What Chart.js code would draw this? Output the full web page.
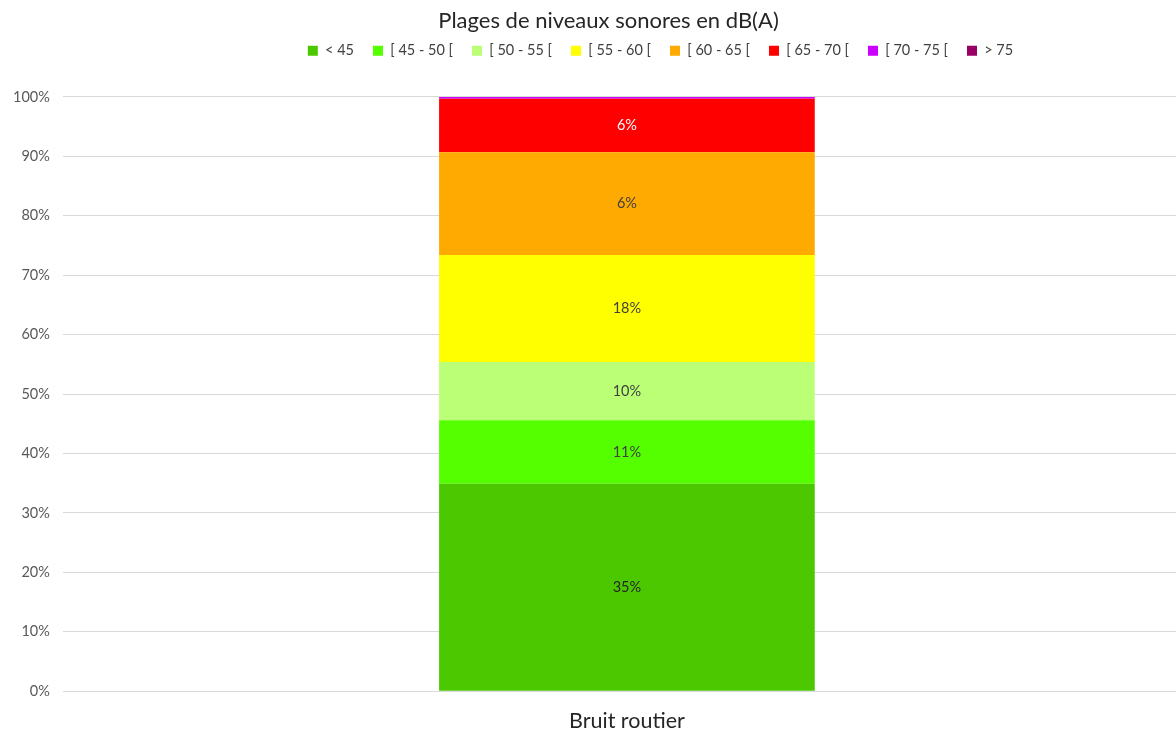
<!DOCTYPE html>
<html>
<head>
<meta charset="utf-8">
<script src="https://cdn.jsdelivr.net/npm/chart.js@4"></script>
<style>
  html, body { margin: 0; padding: 0; background: #fff; overflow: hidden; }
  #wrap { width: 1191px; height: 743px; position: relative; }
</style>
</head>
<body>
<div id="wrap"><canvas id="chart"></canvas></div>
<script>
const categories = ['Bruit routier'];
const seriesNames = ['< 45', '[ 45 - 50 [', '[ 50 - 55 [', '[ 55 - 60 [', '[ 60 - 65 [', '[ 65 - 70 [', '[ 70 - 75 [', '> 75'];
// hauteurs (en %)
const seriesValues = [34.9, 10.7, 9.8, 18.0, 17.3, 9.0, 0.3, 0];
// étiquettes affichées dans les barres
const seriesLabels = ['35%', '11%', '10%', '18%', '6%', '6%', '', ''];
const seriesColors = ['#4cc800', '#55ff00', '#bbff77', '#ffff00', '#ffaa00', '#ff0000', '#cc00ff', '#990066'];
const labelColors = ['#262626', '#404040', '#404040', '#404040', '#404040', '#ffffff', '#404040', '#404040'];
const yTicks = [0, 10, 20, 30, 40, 50, 60, 70, 80, 90, 100];

const FONT = 'Lato, "Open Sans", sans-serif';

// dessine le texte au centre de chaque segment
const barLabels = {
  id: 'barLabels',
  afterDatasetsDraw(chart) {
    const ctx = chart.ctx;
    ctx.save();
    ctx.font = '14.5px ' + FONT;
    ctx.textAlign = 'center';
    ctx.textBaseline = 'middle';
    chart.data.datasets.forEach((ds, i) => {
      const meta = chart.getDatasetMeta(i);
      meta.data.forEach(bar => {
        const text = seriesLabels[i];
        if (!text) return;
        ctx.fillStyle = labelColors[i];
        ctx.fillText(text, bar.x, (bar.y + bar.base) / 2);
      });
    });
    ctx.restore();
  }
};

// plus d'espace sous la légende, et titre / légende décalés comme dans Excel
const legendSpace = {
  id: 'legendSpace',
  beforeInit(chart) {
    const origFit = chart.legend.fit;
    chart.legend.fit = function () {
      origFit.bind(chart.legend)();
      this.height += 29;
    };
  },
  afterLayout(chart) {
    chart.legend.left += 65;
    chart.legend.right += 65;
    chart.titleBlock.left += 13;
    chart.titleBlock.right += 13;
  }
};

new Chart(document.getElementById('chart'), {
  type: 'bar',
  data: {
    labels: categories,
    datasets: seriesNames.map((name, i) => ({
      label: name,
      data: [seriesValues[i]],
      backgroundColor: seriesColors[i],
      borderWidth: 0
    }))
  },
  options: {
    responsive: true,
    maintainAspectRatio: false,
    animation: false,
    layout: { padding: { left: 0, right: 0, top: 8, bottom: 0 } },
    datasets: {
      bar: { categoryPercentage: 1, barPercentage: 0.333 }
    },
    plugins: {
      title: {
        display: true,
        text: 'Plages de niveaux sonores en dB(A)',
        color: '#262626',
        font: { family: FONT, size: 22, weight: 'normal' },
        padding: { top: 0, bottom: -10 }
      },
      legend: {
        position: 'top',
        labels: {
          boxWidth: 10,
          boxHeight: 10,
          color: '#404040',
          font: { family: FONT, size: 14.5 },
          padding: 19
        }
      },
      tooltip: { enabled: false }
    },
    scales: {
      x: {
        stacked: true,
        grid: { display: false },
        border: { display: false },
        ticks: { color: '#262626', padding: 9, font: { family: FONT, size: 21.5 } }
      },
      y: {
        stacked: true,
        min: 0,
        max: 100,
        afterBuildTicks: axis => { axis.ticks = yTicks.map(v => ({ value: v })); },
        grid: { color: '#d9d9d9', lineWidth: 1, drawTicks: false },
        border: { display: false },
        ticks: {
          color: '#595959',
          padding: 13,
          font: { family: FONT, size: 14.5 },
          callback: v => v + '%'
        }
      }
    }
  },
  plugins: [barLabels, legendSpace]
});
</script>
</body>
</html>
